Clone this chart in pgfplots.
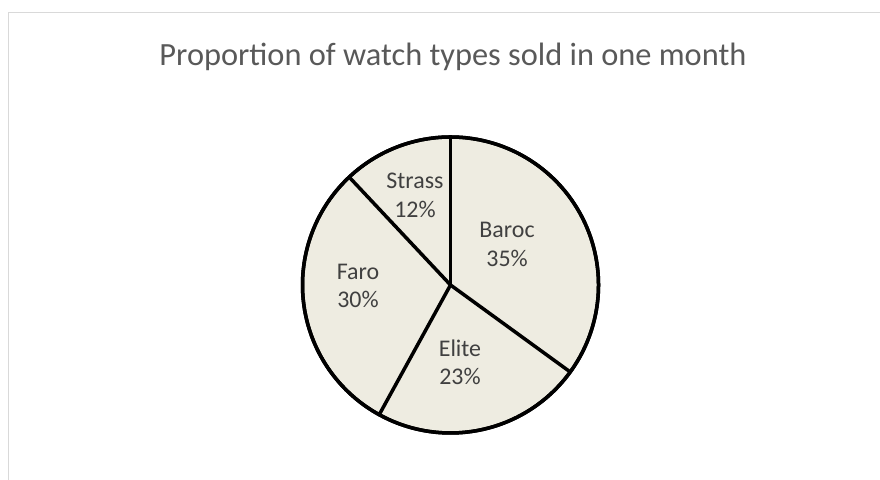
\documentclass[border=0pt]{standalone}
\usepackage{pgfplots}
\pgfplotsset{compat=1.18}
\usepackage{pgfplotstable}
\usepackage{fontspec}
\setmainfont{Carlito}
\definecolor{piefill}{HTML}{EEECE1}
\definecolor{titlegray}{HTML}{595959}
\definecolor{lblgray}{HTML}{404040}
\definecolor{bordergray}{HTML}{D9D9D9}
\tikzset{lbl/.style={anchor=base, font=\fontsize{24}{28}\selectfont, text=lblgray}}

% slice values (percent) and cumulative start (percent, clockwise from top)
\pgfplotstableread{
name   value cum
Baroc  35    0
Elite  23    35
Faro   30    58
Strass 12    88
}\piedata

\begin{document}
\begin{tikzpicture}[x=1bp,y=1bp]
\useasboundingbox (0,0) rectangle (880,480);
\begin{scope}
\clip (0,0) rectangle (880,480);
\draw[color=bordergray, line width=1.5bp] (8.5,467.5) rectangle (900,-20);
\end{scope}
\node[anchor=base, font=\fontsize{32.5}{38}\selectfont, text=titlegray] at (453,414) {Proportion of watch types sold in one month};
\begin{axis}[at={(287.7bp,32.2bp)}, anchor=south west, x=148bp, y=148bp, hide axis,
  scale only axis, xmin=-1.1, xmax=1.1, ymin=-1.1, ymax=1.1, clip=false]
\addplot[fill=piefill, draw=black, line width=3.5bp, domain=90:450, samples=361, no markers] ({cos(x)},{sin(x)});
\addplot[no markers, draw=black, line width=3.5bp, line cap=round,
  quiver={u=cos(90-3.6*\thisrow{cum}), v=sin(90-3.6*\thisrow{cum})}]
  table[x expr=0, y expr=0] {\piedata};
\addplot[draw=black, line width=3.5bp, domain=90:450, samples=361, no markers] ({cos(x)},{sin(x)});
\node[lbl] at (axis cs:0.382,0.324) {Baroc};
\node[lbl] at (axis cs:0.382,0.122) {35\%};
\node[lbl] at (axis cs:0.064,-0.480) {Elite};
\node[lbl] at (axis cs:0.064,-0.669) {23\%};
\node[lbl] at (axis cs:-0.625,0.034) {Faro};
\node[lbl] at (axis cs:-0.625,-0.155) {30\%};
\node[lbl] at (axis cs:-0.240,0.655) {Strass};
\node[lbl] at (axis cs:-0.240,0.453) {12\%};
\end{axis}
\end{tikzpicture}
\end{document}
